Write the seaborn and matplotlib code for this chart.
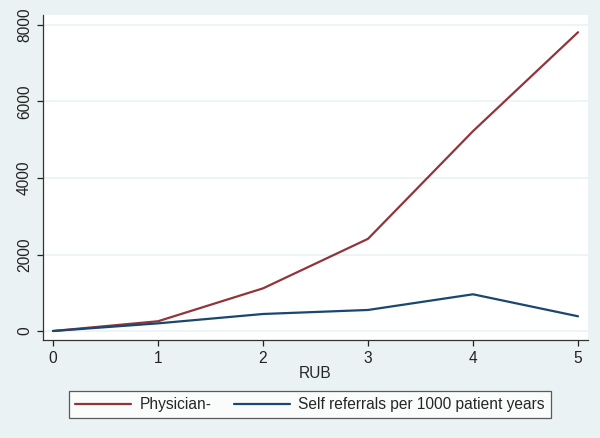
import numpy as np
import pandas as pd
import matplotlib
matplotlib.use('Agg')
import matplotlib.pyplot as plt
import seaborn as sns

# ─── DATA ─────────────────────────────────────────────────
rub = [0, 1, 2, 3, 4, 5]
physician = [0, 255, 1115, 2410, 5225, 7810]
self_ref = [0, 200, 445, 550, 960, 385]
series_names = ['Physician-', 'Self referrals per 1000 patient years']
yticks = [0, 2000, 4000, 6000, 8000]

df = pd.DataFrame({
    'RUB': rub * 2,
    'value': physician + self_ref,
    'series': [series_names[0]] * len(rub) + [series_names[1]] * len(rub),
})

# ─── STYLE ────────────────────────────────────────────────
BG = '#EAF2F3'
sns.set_style('white')
plt.rcParams['font.family'] = ['Liberation Sans', 'DejaVu Sans']
FS = 11.2

fig = plt.figure(figsize=(6, 4.38), dpi=100, facecolor=BG)
ax = fig.add_axes([43/600, 1 - 340/438, 545/600, 325/438])
ax.set_facecolor('white')

sns.lineplot(data=df, x='RUB', y='value', hue='series',
             palette=['#90353B', '#1A476F'], linewidth=1.6, ax=ax, legend=False)

ax.set_xlim(-0.095, 5.095)
ax.set_ylim(-235, 8261)
ax.set_xticks(rub)
ax.set_yticks(yticks)
ax.set_yticklabels([str(t) for t in yticks], rotation=90, va='center')
ax.tick_params(labelsize=FS, colors='#222222', length=4.5, width=0.9, pad=3.5,
               left=True, bottom=True, direction='out')
ax.grid(axis='y', color=BG, linewidth=1.2)
ax.set_axisbelow(True)
for s in ['top', 'right']:
    ax.spines[s].set_visible(False)
for s in ['left', 'bottom']:
    ax.spines[s].set_color('#333333')
    ax.spines[s].set_linewidth(0.9)
ax.set_xlabel('RUB', fontsize=FS, labelpad=0)
ax.set_ylabel('')

handles = [plt.Line2D([], [], color=c, linewidth=1.6) for c in ['#90353B', '#1A476F']]
leg = fig.legend(handles, series_names, loc='center', ncol=2,
                 bbox_to_anchor=(310/600, 1 - 404.5/438), fontsize=FS,
                 frameon=True, fancybox=False, edgecolor='#333333',
                 handlelength=3.6, handletextpad=0.55, columnspacing=1.4,
                 borderpad=0.4)
leg.get_frame().set_linewidth(0.9)
leg.get_frame().set_facecolor('white')

plt.savefig('out.png', dpi=100, facecolor=BG)
plt.close()
